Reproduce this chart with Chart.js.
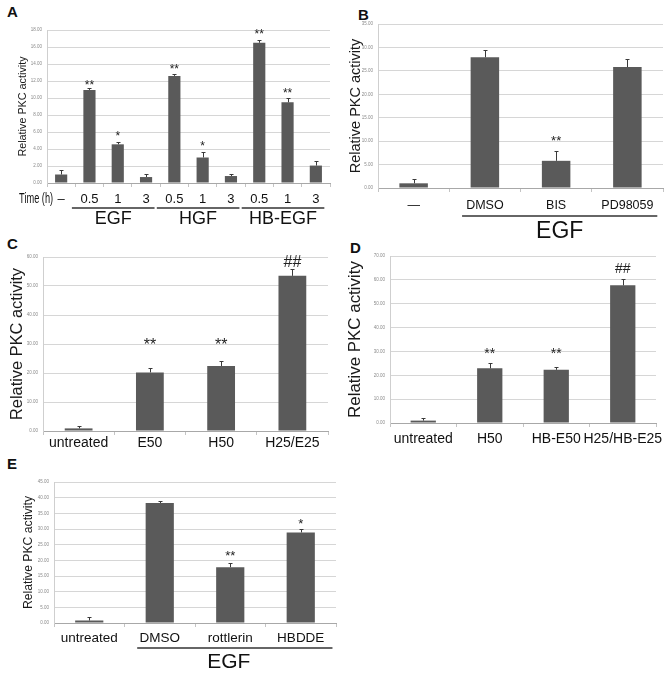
<!DOCTYPE html>
<html>
<head>
<meta charset="utf-8">
<script src="https://cdn.jsdelivr.net/npm/chart.js@4"></script>
<style>
body { margin: 0; background: #fff; width: 672px; height: 674px; position: relative; overflow: hidden; font-family: "Liberation Sans", Arial, sans-serif; }
canvas { position: absolute; }
.letter { position: absolute; font-weight: bold; font-size: 15px; color: #111; }
</style>
</head>
<body>
<div class="letter" style="left:7px;top:3px">A</div>
<div class="letter" style="left:358px;top:6px">B</div>
<div class="letter" style="left:7px;top:235px">C</div>
<div class="letter" style="left:350px;top:239px">D</div>
<div class="letter" style="left:7px;top:455px">E</div>

<canvas id="cA" width="336" height="232" style="left:0;top:0"></canvas>
<canvas id="cB" width="336" height="252" style="left:336px;top:0"></canvas>
<canvas id="cC" width="336" height="220" style="left:0;top:232px"></canvas>
<canvas id="cD" width="336" height="220" style="left:336px;top:232px"></canvas>
<canvas id="cE" width="340" height="222" style="left:0;top:452px"></canvas>

<script>
var FONT = '"Liberation Sans", Arial, sans-serif';

// A: PKC activity after growth factor, by time
var labelsA = ['–', '0.5', '1', '3', '0.5', '1', '3', '0.5', '1', '3'];
var valuesA = [1.0, 10.95, 4.55, 0.7, 12.6, 3.0, 0.82, 16.5, 9.5, 2.05];
var errorsA = [0.55, 0.25, 0.3, 0.35, 0.2, 0.7, 0.25, 0.3, 0.5, 0.55];
var marksA = ['', '**', '*', '', '**', '*', '', '**', '**', ''];
var markLevelsA = [0, 11.9, 5.9, 0, 13.8, 4.8, 0, 17.9, 11.0, 0];
var groupNamesA = ['EGF', 'HGF', 'HB-EGF'];
var groupFromA = [1, 4, 7];
var groupToA = [3, 6, 9];

// B: inhibitors with EGF
var labelsB = ['—', 'DMSO', 'BIS', 'PD98059'];
var valuesB = [1.0, 27.9, 5.8, 25.8];
var errorsB = [0.9, 1.5, 2.1, 1.7];
var marksB = ['', '', '**', ''];
var markLevelsB = [0, 0, 10.9, 0];
var groupNamesB = ['EGF'];
var groupFromB = [1];
var groupToB = [3];

// C: EGF / HGF combination
var labelsC = ['untreated', 'E50', 'H50', 'H25/E25'];
var valuesC = [0.9, 20.2, 22.4, 53.5];
var errorsC = [0.9, 1.6, 1.7, 2.3];
var marksC = ['', '**', '**', '##'];
var markLevelsC = [0, 31.4, 31.4, 58.7];

// D: HGF / HB-EGF combination
var labelsD = ['untreated', 'H50', 'HB-E50', 'H25/HB-E25'];
var valuesD = [1.0, 22.9, 22.3, 57.7];
var errorsD = [1.0, 2.4, 1.3, 2.5];
var marksD = ['', '**', '**', '##'];
var markLevelsD = [0, 31.0, 31.0, 65.0];

// E: PKC inhibitors with EGF
var labelsE = ['untreated', 'DMSO', 'rottlerin', 'HBDDE'];
var valuesE = [0.8, 38.3, 17.8, 28.9];
var errorsE = [1.1, 0.7, 1.2, 1.0];
var marksE = ['', '', '**', '*'];
var markLevelsE = [0, 0, 22.7, 32.9];
var groupNamesE = ['EGF'];
var groupFromE = [1];
var groupToE = [3];

function panel(id, cfg) {
    var extras = {
        id: 'extras',
        afterDatasetsDraw: function (chart) {
            var ctx = chart.ctx;
            var y = chart.scales.y;
            var meta = chart.getDatasetMeta(0);
            ctx.save();
            ctx.strokeStyle = '#3a3a3a';
            ctx.lineWidth = 1;
            meta.data.forEach(function (el, i) {
                var top = Math.round(y.getPixelForValue(cfg.values[i] + cfg.errors[i])) + 0.5;
                var x = Math.round(el.x) + 0.5;
                ctx.beginPath();
                ctx.moveTo(x, el.y);
                ctx.lineTo(x, top);
                ctx.moveTo(x - 2, top);
                ctx.lineTo(x + 2, top);
                ctx.stroke();
            });
            ctx.fillStyle = '#222';
            ctx.textAlign = 'center';
            ctx.textBaseline = 'alphabetic';
            ctx.font = cfg.markFont + 'px ' + FONT;
            meta.data.forEach(function (el, i) {
                var m = cfg.marks[i];
                if (!m) return;
                var py = y.getPixelForValue(cfg.markLevels[i]);
                var shift = m.charAt(0) === '*' ? 0.62 : 0.36;
                ctx.fillText(m, el.x, py + shift * cfg.markFont);
            });
            ctx.restore();
        },
        afterDraw: function (chart) {
            var ctx = chart.ctx;
            var x = chart.scales.x;
            var area = chart.chartArea;
            var step = x.getPixelForValue(1) - x.getPixelForValue(0);
            ctx.save();
            ctx.fillStyle = '#111';
            ctx.textAlign = 'center';
            ctx.textBaseline = 'middle';
            if (cfg.groupNames) {
                cfg.groupNames.forEach(function (name, g) {
                    var x0 = x.getPixelForValue(cfg.groupFrom[g]) - cfg.lineIn * step;
                    var x1 = x.getPixelForValue(cfg.groupTo[g]) + cfg.lineOut * step;
                    var ly = area.bottom + cfg.lineY;
                    ctx.strokeStyle = '#333';
                    ctx.lineWidth = 1.3;
                    ctx.beginPath();
                    ctx.moveTo(x0, ly);
                    ctx.lineTo(x1, ly);
                    ctx.stroke();
                    ctx.font = cfg.groupFont + 'px ' + FONT;
                    ctx.fillText(name, (x0 + x1) / 2 + (cfg.groupShift || 0), area.bottom + cfg.groupY);
                });
            }
            if (cfg.prefix) {
                // the source draws this text narrower than the font
                ctx.textAlign = 'right';
                ctx.font = cfg.prefixFont + 'px ' + FONT;
                ctx.translate(x.getPixelForValue(0) - 8, area.bottom + cfg.prefixY);
                ctx.scale(0.66, 1);
                ctx.fillText(cfg.prefix, 0, 0);
            }
            ctx.restore();
        }
    };
    return new Chart(document.getElementById(id).getContext('2d'), {
        type: 'bar',
        data: {
            labels: cfg.labels,
            datasets: [{
                data: cfg.values,
                backgroundColor: '#5a5a5a',
                borderColor: '#4a4a4a',
                borderWidth: 0,
                barPercentage: cfg.bar,
                categoryPercentage: 1
            }]
        },
        options: {
            responsive: false,
            animation: false,
            layout: { padding: { left: 0, top: cfg.top, right: cfg.right, bottom: 0 } },
            plugins: { legend: { display: false }, tooltip: { enabled: false } },
            scales: {
                x: {
                    grid: { display: true, drawOnChartArea: false, offset: true, tickLength: 4, color: '#c4c4c4' },
                    border: { color: '#a8a8a8' },
                    ticks: { padding: cfg.xPad, color: '#111', maxRotation: 0, autoSkip: false, font: { size: cfg.xFont, family: FONT } },
                    afterFit: function (s) { s.height = cfg.xh; }
                },
                y: {
                    min: 0,
                    max: cfg.max,
                    ticks: {
                        stepSize: cfg.stepSize,
                        padding: 5,
                        color: '#8a8a8a',
                        font: { size: 4.5, family: FONT },
                        callback: function (v) { return v.toFixed(2); }
                    },
                    grid: { color: '#d6d6d6', drawTicks: false },
                    border: { color: '#cfcfcf' },
                    title: {
                        display: true,
                        text: 'Relative PKC activity',
                        color: '#1a1a1a',
                        font: { size: cfg.titleFont, family: FONT },
                        padding: { top: cfg.titlePad, bottom: 0 }
                    },
                    afterFit: function (s) { s.width = cfg.yw; }
                }
            }
        },
        plugins: [extras]
    });
}

panel('cA', {
    labels: labelsA, values: valuesA, errors: errorsA, marks: marksA, markLevels: markLevelsA,
    groupNames: groupNamesA, groupFrom: groupFromA, groupTo: groupToA,
    max: 18, stepSize: 2, bar: 0.43, top: 30, right: 6, yw: 47, xh: 49,
    xFont: 13, xPad: 5, titleFont: 10.8, titlePad: 17, markFont: 12,
    lineIn: 0.62, lineOut: 0.3, lineY: 25, groupY: 36, groupFont: 18,
    prefix: 'Time (h)', prefixY: 16, prefixFont: 14
});

panel('cB', {
    labels: labelsB, values: valuesB, errors: errorsB, marks: marksB, markLevels: markLevelsB,
    groupNames: groupNamesB, groupFrom: groupFromB, groupTo: groupToB,
    max: 35, stepSize: 5, bar: 0.4, top: 24, right: 9, yw: 42, xh: 64,
    xFont: 12.5, xPad: 6, titleFont: 14.5, titlePad: 11, markFont: 13,
    lineIn: 0.32, lineOut: 0.42, lineY: 28, groupY: 44, groupFont: 23
});

panel('cC', {
    labels: labelsC, values: valuesC, errors: errorsC, marks: marksC, markLevels: markLevelsC,
    max: 60, stepSize: 10, bar: 0.39, top: 25, right: 8, yw: 43, xh: 21,
    xFont: 14, xPad: 0, titleFont: 16.4, titlePad: 8, markFont: 16
});

panel('cD', {
    labels: labelsD, values: valuesD, errors: errorsD, marks: marksD, markLevels: markLevelsD,
    max: 70, stepSize: 10, bar: 0.38, top: 24, right: 16, yw: 54, xh: 29,
    xFont: 14, xPad: 4, titleFont: 16.9, titlePad: 9, markFont: 14
});

panel('cE', {
    labels: labelsE, values: valuesE, errors: errorsE, marks: marksE, markLevels: markLevelsE,
    groupNames: groupNamesE, groupFrom: groupFromE, groupTo: groupToE,
    max: 45, stepSize: 5, bar: 0.4, top: 30, right: 4, yw: 54, xh: 51,
    xFont: 13.5, xPad: 3, titleFont: 12.2, titlePad: 21, markFont: 13,
    lineIn: 0.32, lineOut: 0.45, lineY: 25, groupY: 39, groupFont: 21, groupShift: -6
});
</script>
</body>
</html>
